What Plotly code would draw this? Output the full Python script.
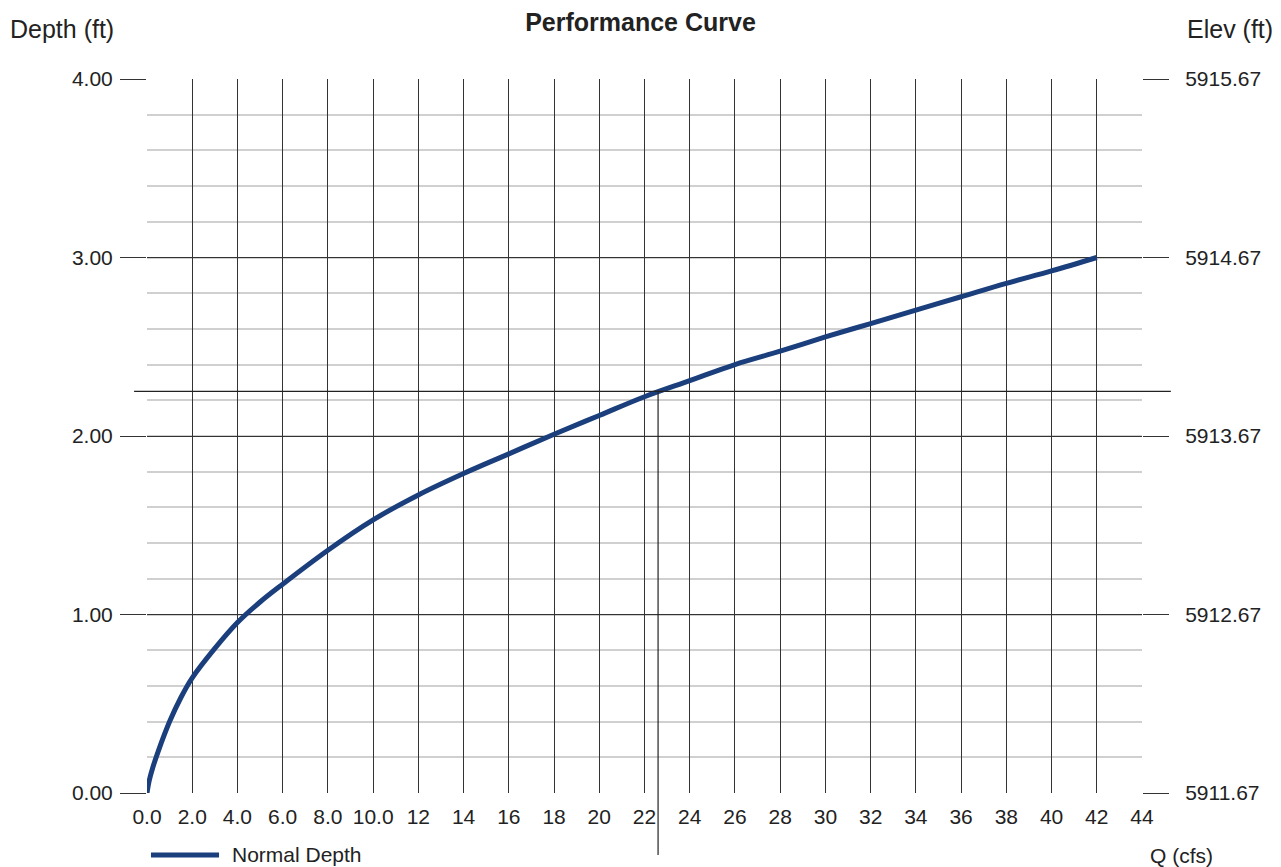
import plotly.graph_objects as go

# ---- data ----
flow_q = [0.0, 0.1, 0.25, 0.5, 1.0, 1.5, 2.0, 3.0, 4.0, 5.0, 6.0, 8.0, 10.0, 12.0, 14.0, 16.0, 18.0,
          20.0, 22.0, 24.0, 26.0, 28.0, 30.0, 32.0, 34.0, 36.0, 38.0, 40.0, 42.0]
normal_depth = [0.0, 0.07, 0.14, 0.235, 0.40, 0.535, 0.645, 0.81, 0.955, 1.07, 1.17, 1.36, 1.53, 1.67,
                1.79, 1.90, 2.01, 2.115, 2.22, 2.31, 2.40, 2.475, 2.555, 2.63, 2.705, 2.78, 2.855,
                2.925, 3.0]
series_name = "Normal Depth"

x_tickvals = list(range(0, 46, 2))
x_ticktext = ["0.0", "2.0", "4.0", "6.0", "8.0", "10.0", "12", "14", "16", "18", "20", "22",
              "24", "26", "28", "30", "32", "34", "36", "38", "40", "42", "44"]
depth_ticks = [0, 1, 2, 3, 4]
depth_ticktext = ["0.00", "1.00", "2.00", "3.00", "4.00"]
elev_ticks = [5911.67, 5912.67, 5913.67, 5914.67, 5915.67]
elev_ticktext = ["5911.67", "5912.67", "5913.67", "5914.67", "5915.67"]

design_q = 22.6
design_depth = 2.25

FONT = "Liberation Sans, Arial, sans-serif"
DARK = "#333333"
CURVE = "#1b3f7c"
TXT = "#222222"

fig = go.Figure()
fig.add_trace(go.Scatter(
    x=flow_q, y=normal_depth, mode="lines", name=series_name, showlegend=False,
    line=dict(color=CURVE, width=5, shape="spline", smoothing=1.0),
))
# invisible trace to activate the right (elevation) axis
fig.add_trace(go.Scatter(
    x=[flow_q[0]], y=[elev_ticks[0]], yaxis="y2", mode="markers",
    marker=dict(opacity=0), showlegend=False, hoverinfo="skip",
))

# design-point reference lines
fig.add_shape(type="line", xref="paper", yref="y", x0=-0.013, x1=1.029,
              y0=design_depth, y1=design_depth, line=dict(color="#222222", width=1.2))
fig.add_shape(type="line", xref="x", yref="paper", x0=design_q, x1=design_q,
              y0=-0.087, y1=design_depth / 4.0, line=dict(color="#222222", width=1.2))
# legend sample line
fig.add_shape(type="line", xref="paper", yref="paper", x0=0.004, x1=0.0724,
              y0=-0.0868, y1=-0.0868, line=dict(color=CURVE, width=5))

fig.update_layout(
    width=1281, height=867,
    paper_bgcolor="white", plot_bgcolor="white",
    margin=dict(l=147, r=139, t=79, b=74, autoexpand=False),
    font=dict(family=FONT, color=TXT, size=21),
    title=dict(text="<b>Performance Curve</b>", x=0.5, xref="container", xanchor="center",
               y=1 - 22 / 867, yref="container", yanchor="middle",
               font=dict(family=FONT, size=25, color=TXT)),
    xaxis=dict(range=[0, 44], tickvals=x_tickvals, ticktext=x_ticktext,
               showgrid=True, gridcolor=DARK, gridwidth=1, zeroline=False,
               showline=False, ticks="", tickfont=dict(size=21), ticklabelstandoff=9,
               automargin=False, fixedrange=True),
    yaxis=dict(range=[0, 4], tickvals=depth_ticks, ticktext=depth_ticktext,
               showgrid=True, gridcolor=DARK, gridwidth=1.2, zeroline=False, showline=False,
               ticks="outside", ticklen=26, tickcolor=DARK, tickwidth=1.2,
               tickfont=dict(size=21), ticklabelstandoff=3, automargin=False,
               minor=dict(dtick=0.2, showgrid=True, gridcolor="#d0d0d0", gridwidth=2, ticks=""),
               layer="below traces"),
    yaxis2=dict(range=[elev_ticks[0], elev_ticks[-1]], tickvals=elev_ticks, ticktext=elev_ticktext,
                overlaying="y", side="right", anchor="x", showgrid=False, zeroline=False,
                showline=False, ticks="outside", ticklen=26, tickcolor=DARK, tickwidth=1.2,
                tickfont=dict(size=21), ticklabelstandoff=12, automargin=False),
    showlegend=False,
    annotations=[
        dict(text="Depth (ft)", xref="paper", yref="paper", x=-0.1397, y=1.070,
             xanchor="left", yanchor="middle", showarrow=False, font=dict(size=25)),
        dict(text="Elev (ft)", xref="paper", yref="paper", x=1.1337, y=1.070,
             xanchor="right", yanchor="middle", showarrow=False, font=dict(size=25)),
        dict(text="Q (cfs)", xref="paper", yref="paper", x=1.040, y=-0.087,
             xanchor="center", yanchor="middle", showarrow=False, font=dict(size=21)),
        dict(text=series_name, xref="paper", yref="paper", x=0.0834, y=-0.0868,
             xanchor="left", yanchor="middle", showarrow=False, font=dict(size=21)),
    ],
)

fig.write_html("out.html", config={"displayModeBar": False},
               post_script="document.body.style.margin='0px';")
